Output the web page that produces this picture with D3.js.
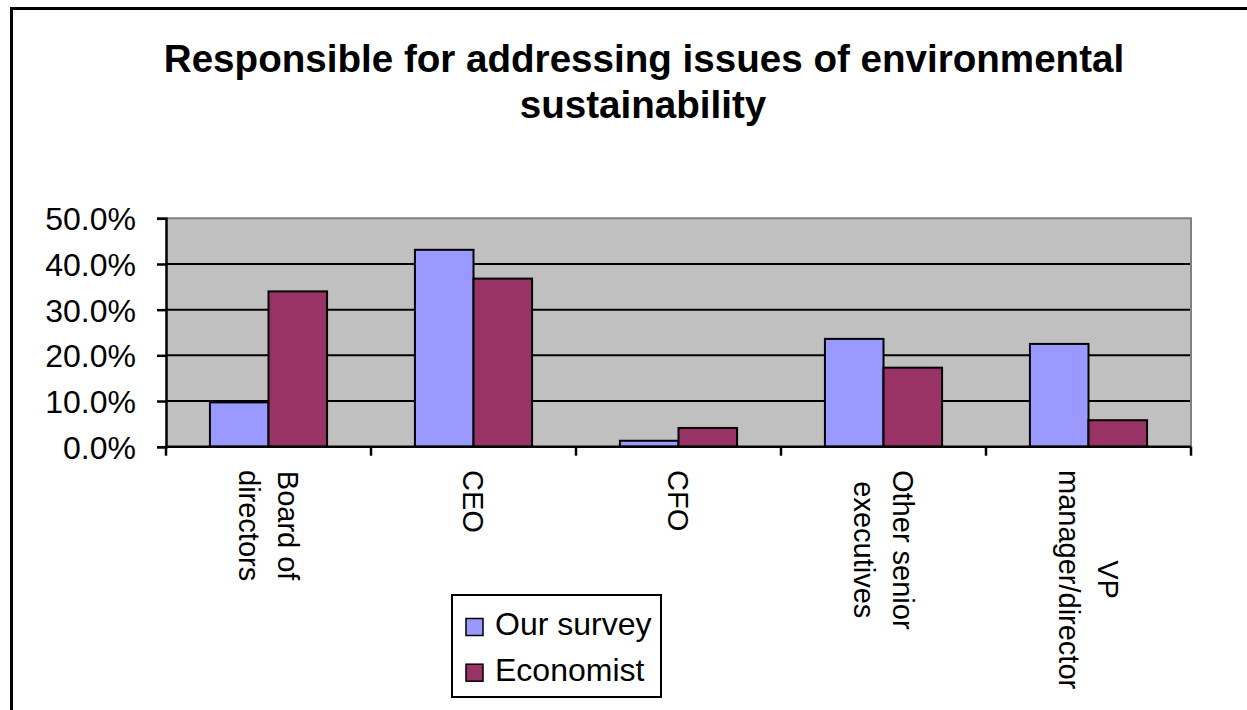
<!DOCTYPE html>
<html>
<head>
<meta charset="utf-8">
<script src="https://cdn.jsdelivr.net/npm/d3@7"></script>
<style>
  html, body { margin: 0; padding: 0; background: #fff; overflow: hidden; }
  svg { display: block; font-family: "Liberation Sans", Arial, sans-serif; }
</style>
</head>
<body>
<svg id="chart" width="1247" height="710"></svg>
<script>
// Who is responsible for environmental sustainability: two surveys compared
const categories = ["Board of directors", "CEO", "CFO", "Other senior executives", "VP manager/director"];
const categoryLines = [["Board of", "directors"], ["CEO"], ["CFO"], ["Other senior", "executives"], ["VP", "manager/director"]];
const seriesNames = ["Our survey", "Economist"];
const ourSurvey = [0.097, 0.431, 0.013, 0.236, 0.225];
const economist = [0.340, 0.368, 0.041, 0.173, 0.058];
const yTicks = [0, 0.1, 0.2, 0.3, 0.4, 0.5];
const seriesColors = ["#9999FF", "#993366"];

const seriesValues = [ourSurvey, economist];
const rows = categories.map((c, i) => ({ cat: c, values: seriesNames.map((s, j) => ({ key: s, value: seriesValues[j][i] })) }));

const svg = d3.select("#chart");

// chart frame
svg.append("rect")
  .attr("x", 11.5).attr("y", 8.5)
  .attr("width", 1260).attr("height", 720)
  .attr("fill", "#fff").attr("stroke", "#000").attr("stroke-width", 3);

// title
const title = svg.append("text")
  .attr("text-anchor", "middle")
  .attr("font-size", 38.6).attr("font-weight", "bold").attr("fill", "#000");
title.append("tspan").attr("x", 644).attr("y", 72).text("Responsible for addressing issues of environmental");
title.append("tspan").attr("x", 643).attr("y", 117.5).text("sustainability");

// plot geometry
const plot = { left: 166, right: 1191, top: 218.3, bottom: 446.7 };

const x0 = d3.scaleBand().domain(categories).range([plot.left, plot.right]).padding(0);
const x1 = d3.scaleBand().domain(seriesNames).range([0, x0.bandwidth()])
  .paddingInner(0).paddingOuter(0.75);
const y = d3.scaleLinear().domain([0, 0.5]).range([plot.bottom, plot.top]);
const color = d3.scaleOrdinal().domain(seriesNames).range(seriesColors);

// plot area background
svg.append("rect")
  .attr("x", plot.left).attr("y", plot.top)
  .attr("width", plot.right - plot.left).attr("height", plot.bottom - plot.top)
  .attr("fill", "#C0C0C0");

// horizontal gridlines
svg.append("g").selectAll("line")
  .data(yTicks.filter(t => t > 0 && t < 0.5))
  .join("line")
  .attr("x1", plot.left).attr("x2", plot.right)
  .attr("y1", d => y(d)).attr("y2", d => y(d))
  .attr("stroke", "#000").attr("stroke-width", 2);

// plot area border (top and right)
svg.append("path")
  .attr("d", `M${plot.left},${plot.top}H${plot.right}V${plot.bottom}`)
  .attr("fill", "none").attr("stroke", "#808080").attr("stroke-width", 2);

// bars
svg.append("g").selectAll("g")
  .data(rows)
  .join("g")
  .attr("transform", d => `translate(${x0(d.cat)},0)`)
  .selectAll("rect")
  .data(d => d.values)
  .join("rect")
  .attr("x", d => x1(d.key))
  .attr("width", x1.bandwidth())
  .attr("y", d => y(d.value))
  .attr("height", d => y(0) - y(d.value))
  .attr("fill", d => color(d.key))
  .attr("stroke", "#000").attr("stroke-width", 2);

// y axis
const yAxis = svg.append("g")
  .attr("transform", `translate(${plot.left},0)`)
  .call(d3.axisLeft(y).tickValues(yTicks).tickFormat(d3.format(".1%")).tickSize(9).tickPadding(21));
yAxis.select(".domain").attr("stroke", "#000").attr("stroke-width", 2.5);
yAxis.selectAll(".tick line").attr("stroke", "#000").attr("stroke-width", 2.5);
yAxis.selectAll(".tick text")
  .attr("font-size", 32).attr("font-family", "'Liberation Sans', Arial, sans-serif")
  .attr("fill", "#000").attr("dy", "0.36em");

// x axis: ticks at category boundaries
const boundaries = categories.map(c => x0(c)).concat([plot.right]);
const xAxis = svg.append("g");
xAxis.append("line")
  .attr("x1", plot.left).attr("x2", plot.right)
  .attr("y1", plot.bottom).attr("y2", plot.bottom)
  .attr("stroke", "#000").attr("stroke-width", 2.5);
xAxis.selectAll("line.tick")
  .data(boundaries)
  .join("line")
  .attr("class", "tick")
  .attr("x1", d => d).attr("x2", d => d)
  .attr("y1", plot.bottom).attr("y2", plot.bottom + 9)
  .attr("stroke", "#000").attr("stroke-width", 2.5);

// category labels, rotated to read downward
const labelTop = 470;
const lineGap = 39;
categories.forEach((c, i) => {
  const lines = categoryLines[i];
  const cx = x0(c) + x0.bandwidth() / 2;
  const g = xAxis.append("g");
  const texts = lines.map((ln, k) => g.append("text")
    .attr("font-size", 29).attr("fill", "#000")
    .attr("text-anchor", "middle")
    .text(ln));
  const maxLen = d3.max(texts, t => t.node().getComputedTextLength());
  texts.forEach((t, k) => {
    const bx = cx - 10.5 + (lines.length - 1) / 2 * lineGap - k * lineGap;
    t.attr("transform", `translate(${bx},${labelTop + maxLen / 2}) rotate(90)`);
  });
});

// legend
const legend = svg.append("g");
legend.append("rect")
  .attr("x", 452).attr("y", 595).attr("width", 209).attr("height", 102)
  .attr("fill", "#fff").attr("stroke", "#000").attr("stroke-width", 2);
const items = legend.selectAll("g.item")
  .data(seriesNames)
  .join("g")
  .attr("class", "item")
  .attr("transform", (d, i) => `translate(0,${i * 45.7})`);
items.append("rect")
  .attr("x", 466).attr("y", 618.5).attr("width", 17).attr("height", 17)
  .attr("fill", d => color(d)).attr("stroke", "#000").attr("stroke-width", 1.5);
items.append("text")
  .attr("x", 495).attr("y", 635)
  .attr("font-size", 32).attr("fill", "#000")
  .text(d => d);
</script>
</body>
</html>
